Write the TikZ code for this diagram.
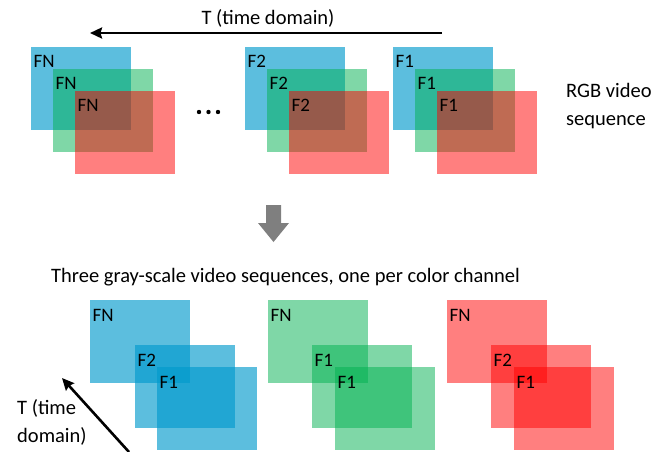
\documentclass[tikz,border=0pt]{standalone}
\usepackage{fontspec}
\setmainfont{Carlito}
\usetikzlibrary{arrows.meta}
\definecolor{cb}{RGB}{0,153,204}
\definecolor{cg}{RGB}{0,176,80}
\definecolor{cr}{RGB}{255,0,0}
\definecolor{arrowgray}{RGB}{127,127,127}
\tikzset{
  frame/.style={rectangle, anchor=north west, inner sep=0pt, minimum width=100pt, minimum height=83pt, draw=none},
  bluebox/.style={frame, fill=cb, fill opacity=0.64},
  greenbox/.style={frame, fill=cg, fill opacity=0.5},
  redbox/.style={frame, fill=cr, fill opacity=0.5},
  lbl/.style={anchor=base west, inner sep=0pt, font=\fontsize{19}{22}\selectfont},
  txt/.style={inner sep=0pt, font=\fontsize{20.5}{28}\selectfont},
  timearrow/.style={line width=2.6pt, -{Stealth[length=12pt,width=11pt,inset=1.5pt]}},
  dotmark/.style={circle, fill=black, inner sep=0pt, minimum size=4.4pt}
}
\begin{document}
\begin{tikzpicture}[x=1pt,y=-1pt]
\useasboundingbox (0,0) rectangle (665,451);
% top time arrow
\node[txt, anchor=base] (ttop) at (268,24) {T (time domain)};
\coordinate (ta) at (442,33);
\coordinate (tb) at (90,33);
\draw[timearrow] (ta) -- (tb);
% top RGB groups
\node[bluebox]  (aB) at (31,47) {};
\node[greenbox] (aG) at (53,69) {};
\node[redbox]   (aR) at (75,91) {};
\node[bluebox]  (bB) at (245,47) {};
\node[greenbox] (bG) at (267,69) {};
\node[redbox]   (bR) at (289,91) {};
\node[bluebox]  (cB) at (393,47) {};
\node[greenbox] (cG) at (415,69) {};
\node[redbox]   (cR) at (437,91) {};
\foreach \n/\t in {aB/FN,aG/FN,aR/FN,bB/F2,bG/F2,bR/F2,cB/F1,cG/F1,cR/F1}
  \node[lbl] (l\n) at ([shift={(2.5pt,-20.5pt)}]\n.north west) {\t};
% ellipsis
\node[dotmark] (d1) at (199,112) {};
\node[dotmark] (d2) at (208.5,112) {};
\node[dotmark] (d3) at (218,112) {};
% RGB label
\node[txt, anchor=base west, align=left] (rgb) at (566,125) {RGB video\\sequence};
% gray block arrow
\fill[arrowgray] (266,205) -- (281,205) -- (281,223) -- (289,223) -- (273.5,242) -- (258,223) -- (266,223) -- cycle;
% caption
\node[txt, anchor=base west] (cap) at (51,282) {Three gray-scale video sequences, one per color channel};
% bottom blue
\node[bluebox] (pB1) at (90,300) {};
\node[bluebox] (pB2) at (135,345) {};
\node[bluebox] (pB3) at (157,367) {};
% bottom green
\node[greenbox] (pG1) at (268,300) {};
\node[greenbox] (pG2) at (312,345) {};
\node[greenbox] (pG3) at (335,367) {};
% bottom red
\node[redbox] (pR1) at (447,300) {};
\node[redbox] (pR2) at (491,345) {};
\node[redbox] (pR3) at (514,367) {};
\foreach \n/\t in {pB1/FN,pB2/F2,pB3/F1,pG1/FN,pG2/F1,pG3/F1,pR1/FN,pR2/F2,pR3/F1}
  \node[lbl] (l\n) at ([shift={(2.5pt,-21pt)}]\n.north west) {\t};
% diagonal time arrow
\node[txt, anchor=base west, align=left] (tbot) at (17,442) {T (time\\domain)};
\coordinate (da) at (129,452);
\coordinate (db) at (62,378);
\draw[timearrow] (da) -- (db);
\end{tikzpicture}
\end{document}
